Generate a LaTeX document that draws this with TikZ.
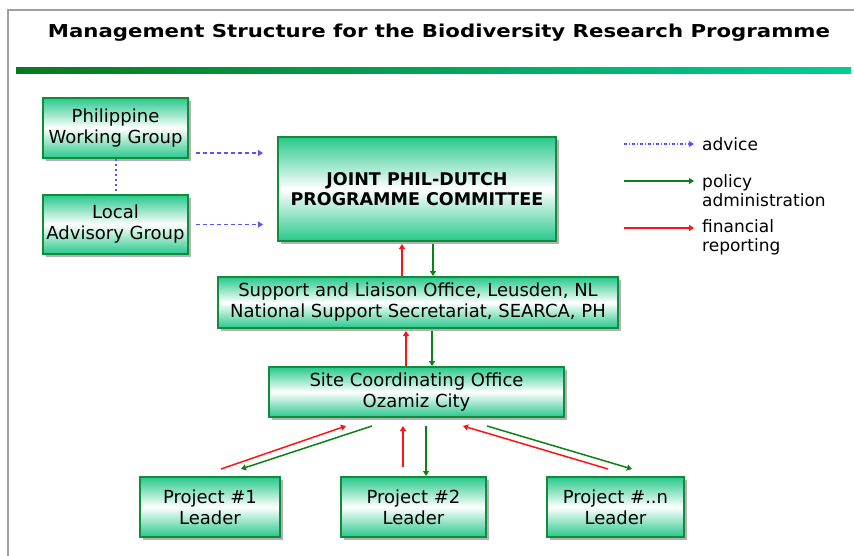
\documentclass[tikz,border=0pt]{standalone}
\usepackage{fontspec}
\usepackage{graphicx}
\setmainfont{DejaVu Sans}
\usetikzlibrary{arrows.meta,shadows,calc}

\definecolor{boxgreen}{RGB}{40,200,140}
\definecolor{edgegreen}{RGB}{16,140,60}
\definecolor{advblue}{RGB}{85,85,255}
\definecolor{polgreen}{RGB}{10,130,20}
\definecolor{finred}{RGB}{255,20,20}
\definecolor{framegray}{RGB}{160,160,160}
\definecolor{bardark}{RGB}{10,120,30}
\definecolor{barlight}{RGB}{0,205,150}

\tikzset{
  orgbox/.style={draw=edgegreen, line width=2pt,
    top color=boxgreen, bottom color=boxgreen, middle color=white,
    drop shadow={shadow xshift=3pt, shadow yshift=-3pt, fill=black, opacity=0.3},
    align=center, inner sep=0pt,
    font=\fontsize{18}{21}\selectfont},
  flowtip/.style={-{Triangle[length=5pt,width=6pt]}},
  advice/.style={advblue, line width=1.5pt, dash pattern=on 4pt off 3pt, flowtip},
  advicekey/.style={advblue, line width=1.5pt, dash pattern=on 3pt off 2pt on 1pt off 2pt, flowtip},
  policy/.style={polgreen, line width=1.5pt, flowtip},
  finance/.style={finred, line width=1.5pt, flowtip},
  keytext/.style={anchor=west, align=left, inner sep=0pt,
    font=\fontsize{17}{19}\selectfont},
}

\begin{document}
\begin{tikzpicture}[x=1pt, y=-1pt]
  % page and frame
  \fill[white] (0,0) rectangle (854,556);
  \useasboundingbox (0,0) rectangle (854,556);
  \draw[framegray, line width=2.5pt] (8,556) -- (8,10) -- (854,10);

  % title and underline bar
  \node[anchor=base, inner sep=0pt] (title) at (439,37.5)
    {\resizebox{782pt}{13.5pt}{\bfseries Management Structure for the Biodiversity Research Programme}};
  \shade[left color=bardark, right color=barlight] (16,67.5) rectangle (851,74);

  % boxes
  \node[orgbox, minimum width=145pt, minimum height=60pt] (pwg) at (115.5,128)
    {Philippine\\Working Group};
  \node[orgbox, minimum width=145pt, minimum height=59pt] (lag) at (115.5,224.5)
    {Local\\Advisory Group};
  \node[orgbox, minimum width=278pt, minimum height=104pt,
        font=\bfseries\fontsize{17.5}{20.5}\selectfont] (jpc) at (417,189)
    {JOINT PHIL-DUTCH\\PROGRAMME COMMITTEE};
  \node[orgbox, minimum width=400pt, minimum height=51pt] (slo) at (418,302.5)
    {Support and Liaison Office, Leusden, NL\\National Support Secretariat, SEARCA, PH};
  \node[orgbox, minimum width=295pt, minimum height=50pt] (sco) at (416.5,392)
    {Site Coordinating Office\\Ozamiz City};
  \node[orgbox, minimum width=140pt, minimum height=60pt] (p1) at (210,507)
    {Project \#1\\Leader};
  \node[orgbox, minimum width=145pt, minimum height=60pt] (p2) at (413.5,507)
    {Project \#2\\Leader};
  \node[orgbox, minimum width=137pt, minimum height=60pt] (pn) at (615.5,507)
    {Project \#..n\\Leader};

  % advice links
  \draw[advblue, line width=2pt, dash pattern=on 2.5pt off 2.5pt]
    (pwg.south) -- (lag.north);
  \draw[advice, shorten <=7pt, shorten >=14pt]
    ([yshift=6pt]pwg.south east) -- ([yshift=6pt]pwg.south east -| jpc.west);
  \draw[advice, shorten <=7pt, shorten >=14pt]
    (lag.east) -- (lag.east -| jpc.west);

  % committee <-> support office
  \draw[finance, shorten >=2pt]
    ([xshift=-16pt]slo.north) -- ([xshift=-16pt]slo.north |- jpc.south);
  \draw[policy, shorten <=2pt]
    ([xshift=15pt]slo.north |- jpc.south) -- ([xshift=15pt]slo.north);

  % support office <-> site office
  \draw[finance, shorten >=2pt]
    ([xshift=-10.5pt]sco.north) -- ([xshift=-10.5pt]sco.north |- slo.south);
  \draw[policy, shorten <=2pt]
    ([xshift=15.5pt]sco.north |- slo.south) -- ([xshift=15.5pt]sco.north);

  % site office <-> project leaders
  \draw[finance] ([xshift=11pt, yshift=7pt]p1.north) -- ([xshift=-70.5pt, yshift=-8pt]sco.south);
  \draw[policy]  ([xshift=-44.5pt, yshift=-8pt]sco.south) -- ([xshift=31pt, yshift=7pt]p1.north);
  \draw[finance] ([xshift=-10.5pt, yshift=9pt]p2.north) -- ([xshift=-13.5pt, yshift=-8pt]sco.south);
  \draw[policy]  ([xshift=9.5pt, yshift=-8pt]sco.south) -- ([xshift=9.5pt]sco.south |- p2.north);
  \draw[finance] ([xshift=-7.5pt, yshift=7pt]pn.north) -- ([xshift=46.5pt, yshift=-8pt]sco.south);
  \draw[policy]  ([xshift=70.5pt, yshift=-8pt]sco.south) -- ([xshift=16.5pt, yshift=7pt]pn.north);

  % key
  \coordinate (k1a) at (624,144);  \coordinate (k1b) at (694,144);
  \coordinate (k2a) at (624,181);  \coordinate (k2b) at (694,181);
  \coordinate (k3a) at (624,228);  \coordinate (k3b) at (694,228);
  \draw[advicekey] (k1a) -- (k1b);
  \draw[policy] (k2a) -- (k2b);
  \draw[finance] (k3a) -- (k3b);
  \node[keytext] (kadv) at (702,144) {advice};
  \node[keytext] (kpol) at (702,190.5) {policy\\administration};
  \node[keytext] (kfin) at (702,237) {financial\\reporting};
\end{tikzpicture}
\end{document}
